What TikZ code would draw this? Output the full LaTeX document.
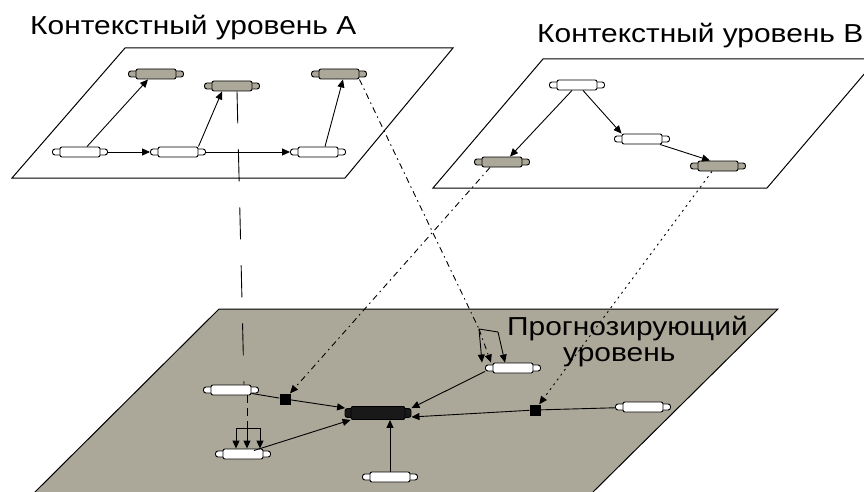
\documentclass[tikz,border=0pt]{standalone}
\usepackage{fontspec}
\setmainfont{Liberation Sans}
\newfontfamily\labelfont[FakeStretch=1.15]{Liberation Sans}
\usetikzlibrary{arrows.meta}
\definecolor{planegray}{HTML}{ACA899}
\tikzset{
  plane/.style={draw,line width=1pt},
  tail/.style={draw,rectangle,rounded corners=2.5pt,minimum width=55pt,minimum height=6pt,inner sep=0pt,line width=0.9pt},
  body/.style={draw,rectangle,rounded corners=2pt,minimum width=40pt,minimum height=10pt,inner sep=0pt,line width=0.9pt},
  link/.style={line width=0.9pt},
  tip/.style={-{Triangle[length=8pt,width=7pt]}},
  arr/.style={link,tip},
  junction/.style={fill=black,minimum size=11pt,inner sep=0pt},
  longdash/.style={link,dash pattern=on 32pt off 26pt},
  shortdash/.style={link,dash pattern=on 8pt off 5pt},
  dashdot/.style={link,dash pattern=on 6pt off 4pt on 1.5pt off 4pt},
  sparsedot/.style={link,dash pattern=on 2pt off 4pt},
  title/.style={font=\labelfont\fontsize{26}{30}\selectfont,inner sep=0pt,anchor=base west},
}
\newcommand\capnode[3]{%
  \node[tail,fill=#3] (#1) at (#2) {};
  \node[body,fill=#3] (#1b) at (#2) {};}
\begin{document}
\begin{tikzpicture}[x=1pt,y=-1pt]
  \useasboundingbox (0,0) rectangle (864,492);
  \clip (0,0) rectangle (864,492);
  % planes
  \draw[plane,fill=white] (12,178) -- (345,178) -- (453,48) -- (125,48) -- cycle;
  \draw[plane,fill=white] (433,188) -- (767,188) -- (877,59) -- (543,59) -- cycle;
  \draw[plane,fill=planegray] (35,492) -- (219,309) -- (778,309) -- (593,492);
  % titles
  \node[title] (ta) at (30,35) {Контекстный уровень A};
  \node[title] (tb) at (537,43) {Контекстный уровень B};
  \node[title] (tp1) at (507,335) {Прогнозирующий};
  \node[title] (tp2) at (563,361) {уровень};
  % level A
  \capnode{t1}{156,74}{planegray}
  \capnode{t2}{232,86}{planegray}
  \capnode{t3}{339,74}{planegray}
  \capnode{b1}{80,152}{white}
  \capnode{b2}{178,152}{white}
  \capnode{b3}{318,152}{white}
  % level B
  \capnode{tB}{577,85}{white}
  \capnode{mB}{642,139}{white}
  \capnode{lB}{502,162}{planegray}
  \capnode{rB}{718,166}{planegray}
  % prognostic level
  \capnode{n1}{231,390}{white}
  \capnode{n2}{243,454}{white}
  \capnode{n3}{390,477}{white}
  \capnode{n4}{513,368}{white}
  \capnode{n5}{643,407}{white}
  \node[tail,fill=black!90,minimum width=66pt,minimum height=9pt] (cen) at (378,413) {};
  \node[body,fill=black!90,minimum width=54pt,minimum height=13pt] (cenb) at (378,413) {};
  \node[junction] (j1) at (285,399) {};
  \node[junction] (j2) at (535,410) {};
  \coordinate (f1) at (247,428);
  \coordinate (f1l) at (236,428);
  \coordinate (f1r) at (260,428);
  \coordinate (f2) at (479,329);
  \coordinate (f2r) at (498,332);
  \begin{scope}
    \draw[arr] ([xshift=7pt]b1b.north) to ([xshift=-8pt]t1b.south);
    \draw[arr] (b1) to (b2);
    \draw[arr] (b2b.north east) to ([xshift=-10pt]t2b.south);
    \draw[arr] (b2) to (b3);
    \draw[arr] ([xshift=7pt]b3b.north) to ([xshift=4pt]t3b.south);
    \draw[arr] ([xshift=-5pt]tBb.south) to ([xshift=8pt]lBb.north);
    \draw[arr] ([xshift=6pt]tBb.south) to (mBb.north west);
    \draw[arr] ([xshift=18pt]mBb.south) to ([xshift=-8pt]rBb.north);
    \draw[link] (n1) to (j1);
    \draw[arr] (j1) to (cen);
    \draw[arr] (n2) to (cenb.south west);
    \draw[arr] (n3b.north) to (n3b.north |- cenb.south);
    \draw[arr] (n4.south west) to (cen.north east);
    \draw[link] (n5) to (j2);
    \draw[arr] (j2) to ([yshift=-4pt]cen.east);
  \end{scope}
  % links between levels
  \draw[longdash] ([xshift=5pt]t2b.south) to ([xshift=13pt]n1b.north);
  \draw[shortdash] (n1b.south -| f1) to (f1);
  \draw[link] (f1l) to (f1r);
  \draw[arr] (f1l) to (f1l |- n2b.north);
  \draw[arr] (f1) to (f1 |- n2b.north);
  \draw[arr] (f1r) to (f1r |- n2b.north);
  \draw[dashdot] (t3b.south east) to (f2);
  \draw[link] (f2) to (f2r);
  \draw[arr] (f2) to ([xshift=-31pt]n4b.north);
  \draw[dashdot,tip] (f2) to ([xshift=-22pt]n4b.north);
  \draw[arr] (f2r) to ([xshift=-8pt]n4b.north);
  \draw[dashdot,tip] ([xshift=-12pt]lBb.south) to (j1);
  \draw[sparsedot,tip] ([xshift=-6pt]rBb.south) to (j2);
\end{tikzpicture}
\end{document}
